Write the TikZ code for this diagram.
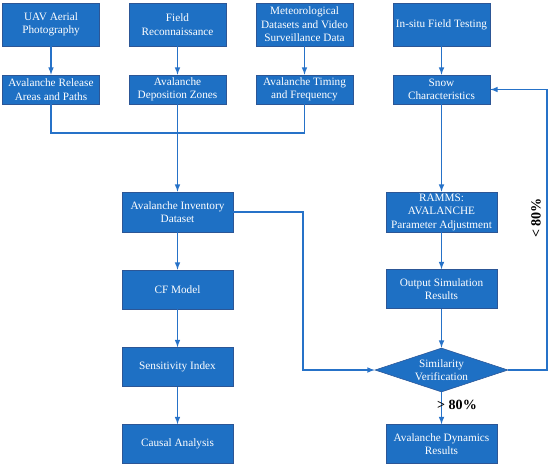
\documentclass[tikz,border=0pt]{standalone}
\usepackage{fontspec}
\setmainfont{Liberation Serif}
\usepackage{tikz}
\usetikzlibrary{arrows,shapes.geometric}
\definecolor{boxblue}{RGB}{30,112,196}
\definecolor{edgeblue}{RGB}{44,86,150}
\definecolor{lineblue}{RGB}{38,114,200}

\begin{document}
\begin{tikzpicture}[x=0.025cm,y=-0.025cm,
  box/.style={rectangle,draw=edgeblue,fill=boxblue,text=white,align=center,
    font=\fontsize{8}{9.6}\selectfont,inner sep=1pt},
  topbox/.style={box,minimum width=2.425cm,minimum height=1.075cm},
  midbox/.style={box,minimum width=2.425cm,minimum height=0.725cm},
  bigbox/.style={box,minimum width=2.775cm,minimum height=0.975cm},
  check/.style={diamond,draw=edgeblue,fill=boxblue,text=white,align=center,
    font=\fontsize{8}{9.6}\selectfont,aspect=3.02,minimum width=3.325cm,
    minimum height=1.1cm,inner sep=0pt},
  link/.style={draw=lineblue,line width=0.8pt},
  >=latex]
 \useasboundingbox (0,0) rectangle (550,468);

 % data sources
 \node at (51,24.5) [topbox] (uav) {UAV Aerial\\Photography};
 \node at (177.5,24.5) [topbox] (field) {Field\\Reconnaissance};
 \node at (304.5,24.5) [topbox] (met) {Meteorological\\Datasets and Video\\Surveillance Data};
 \node at (441.5,24.5) [topbox] (insitu) {In-situ Field Testing};

 \node at (51,89.5) [midbox] (rel) {Avalanche Release\\Areas and Paths};
 \node at (177.5,89.5) [midbox] (dep) {Avalanche\\Deposition Zones};
 \node at (304.5,89.5) [midbox] (tim) {Avalanche Timing\\and Frequency};
 \node at (441.5,89.5) [midbox] (snow) {Snow\\Characteristics};

 % left column
 \node at (177.5,212) [bigbox,minimum height=1cm] (inv) {Avalanche Inventory\\Dataset};
 \node at (177.5,289.5) [bigbox] (cf) {CF Model};
 \node at (177.5,367) [bigbox] (sens) {Sensitivity Index};
 \node at (177.5,444) [bigbox] (causal) {Causal Analysis};

 % right column
 \node at (441.5,212) [bigbox,minimum height=1cm] (ramms) {RAMMS:\\AVALANCHE\\Parameter Adjustment};
 \node at (441.5,289) [bigbox] (out) {Output Simulation\\Results};
 \node at (441.5,370) [check] (sim) {Similarity\\Verification};
 \node at (441.5,444) [bigbox] (dyn) {Avalanche Dynamics\\Results};

 \coordinate (merge) at (177.5,133);
 \coordinate (turn) at (303,212);
 \coordinate (back) at (547,89.5);

 \draw[link,->] (uav)--(rel); \draw[link,->] (field)--(dep);
 \draw[link,->] (met)--(tim); \draw[link,->] (insitu)--(snow);
 \draw[link] (rel) |- (merge) -| (tim);
 \draw[link,->] (dep)--(inv);
 \draw[link,->] (inv)--(cf); \draw[link,->] (cf)--(sens); \draw[link,->] (sens)--(causal);
 \draw[link,->] (inv.east)--(turn) |- (sim.west);
 \draw[link,->] (snow)--(ramms); \draw[link,->] (ramms)--(out); \draw[link,->] (out)--(sim);
 \draw[link,->] (sim)--(dyn);
 \draw[link,->] (sim.east) -| (back) -- (snow.east);

 \node at (536,218) [rotate=90,font=\fontsize{10}{12}\selectfont\bfseries] (lt) {< 80\%};
 \node at (457,405) [font=\fontsize{10}{12}\selectfont\bfseries] (gt) {> 80\%};
\end{tikzpicture}
\end{document}
